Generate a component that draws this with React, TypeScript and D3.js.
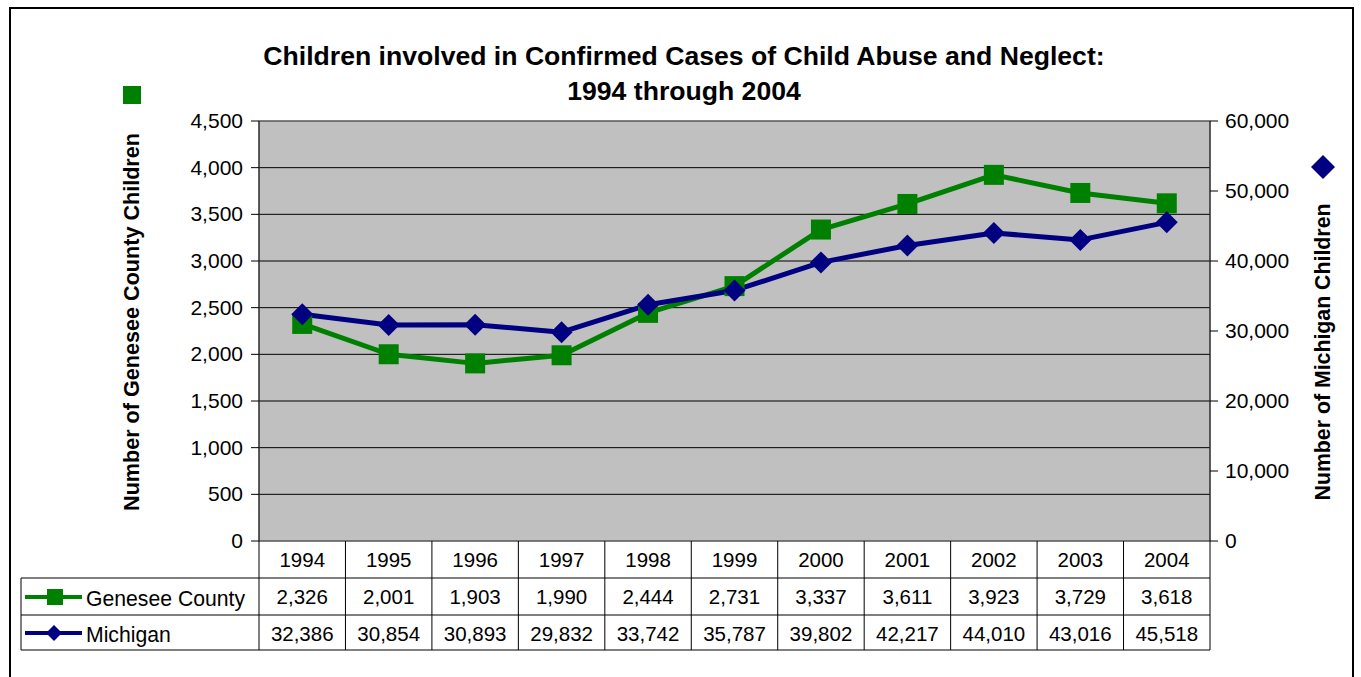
import React from "react";
import * as d3 from "d3";

const years = ["1994", "1995", "1996", "1997", "1998", "1999", "2000", "2001", "2002", "2003", "2004"];
const genesee = [2326, 2001, 1903, 1990, 2444, 2731, 3337, 3611, 3923, 3729, 3618];
const michigan = [32386, 30854, 30893, 29832, 33742, 35787, 39802, 42217, 44010, 43016, 45518];
const leftTicks = [0, 500, 1000, 1500, 2000, 2500, 3000, 3500, 4000, 4500];
const rightTicks = [0, 10000, 20000, 30000, 40000, 50000, 60000];
const titleLines = ["Children involved in Confirmed Cases of Child Abuse and Neglect:", "1994 through 2004"];

const W = 1361, H = 677;
const PL = 259, PR = 1210, PT = 121, PB = 541;
const GREEN = "#008000", NAVY = "#000080";
const FONT = "'Liberation Sans', Arial, sans-serif";

export default function App() {
  const x = d3.scaleBand<string>().domain(years).range([PL, PR]);
  const yL = d3.scaleLinear().domain([0, 4500]).range([PB, PT]);
  const yR = d3.scaleLinear().domain([0, 60000]).range([PB, PT]);
  const fmt = d3.format(",");
  const cx = (d: string) => (x(d) as number) + x.bandwidth() / 2;
  const lineG = d3.line<number>().x((_, i) => cx(years[i])).y((v) => yL(v));
  const lineM = d3.line<number>().x((_, i) => cx(years[i])).y((v) => yR(v));
  const rowY = [PB, 578, 615, 650];
  const tableLeft = 21;
  const diamond = (px: number, py: number, r: number) =>
    `M${px},${py - r}L${px + r},${py}L${px},${py + r}L${px - r},${py}Z`;

  return (
    <div style={{ position: "absolute", left: 0, top: 0 }}>
      <svg width={W} height={H} style={{ display: "block", fontFamily: FONT }}>
        <rect x={0} y={0} width={W} height={H} fill="#fff" />
        <rect x={10} y={8} width={1343} height={700} fill="none" stroke="#000" strokeWidth={2} />
        {/* title */}
        {titleLines.map((t, i) => (
          <text key={i} x={684} y={65 + i * 35} textAnchor="middle" fontSize={26.6} fontWeight="bold">{t}</text>
        ))}
        {/* plot area */}
        <rect x={PL} y={PT} width={PR - PL} height={PB - PT} fill="#C0C0C0" />
        {leftTicks.map((t) => (
          <line key={"g" + t} x1={PL} x2={PR} y1={yL(t)} y2={yL(t)} stroke="#000" strokeWidth={1} />
        ))}
        <rect x={PL} y={PT} width={PR - PL} height={PB - PT} fill="none" stroke="#808080" strokeWidth={1} />
        {/* left axis */}
        <line x1={PL} x2={PL} y1={PT} y2={PB} stroke="#000" />
        {leftTicks.map((t) => (
          <g key={"l" + t}>
            <line x1={PL - 8} x2={PL} y1={yL(t)} y2={yL(t)} stroke="#000" />
            <text x={PL - 16} y={yL(t) + 7} textAnchor="end" fontSize={21}>{fmt(t)}</text>
          </g>
        ))}
        {/* right axis */}
        <line x1={PR} x2={PR} y1={PT} y2={PB} stroke="#000" />
        {rightTicks.map((t) => (
          <g key={"r" + t}>
            <line x1={PR} x2={PR + 8} y1={yR(t)} y2={yR(t)} stroke="#000" />
            <text x={PR + 15} y={yR(t) + 7} textAnchor="start" fontSize={21}>{fmt(t)}</text>
          </g>
        ))}
        {/* axis titles */}
        <text transform={`translate(139,322) rotate(-90)`} textAnchor="middle" fontSize={21.6} fontWeight="bold">Number of Genesee County Children</text>
        <text transform={`translate(1330,352) rotate(-90)`} textAnchor="middle" fontSize={21.3} fontWeight="bold">Number of Michigan Children</text>
        <rect x={123} y={86} width={18} height={18} fill={GREEN} />
        <path d={diamond(1323, 167, 12)} fill={NAVY} />
        {/* lines */}
        <path d={lineG(genesee) || ""} fill="none" stroke={GREEN} strokeWidth={5} strokeLinejoin="round" />
        <path d={lineM(michigan) || ""} fill="none" stroke={NAVY} strokeWidth={5} strokeLinejoin="round" />
        {genesee.map((v, i) => (
          <rect key={"sq" + i} x={cx(years[i]) - 10} y={yL(v) - 10} width={20} height={20} fill={GREEN} />
        ))}
        {michigan.map((v, i) => (
          <path key={"dm" + i} d={diamond(cx(years[i]), yR(v), 11)} fill={NAVY} />
        ))}
        {/* data table */}
        {rowY.slice(1).map((yy, i) => (
          <line key={"h" + i} x1={tableLeft} x2={PR} y1={yy} y2={yy} stroke="#000" />
        ))}
        <line x1={tableLeft} x2={tableLeft} y1={rowY[1]} y2={rowY[3]} stroke="#000" />
        {years.map((yr, i) => (
          <line key={"v" + i} x1={x(yr)} x2={x(yr)} y1={PB} y2={rowY[3]} stroke="#000" />
        ))}
        <line x1={PR} x2={PR} y1={PB} y2={rowY[3]} stroke="#000" />
        {years.map((yr) => (
          <text key={"yt" + yr} x={cx(yr)} y={567} textAnchor="middle" fontSize={20.5}>{yr}</text>
        ))}
        {genesee.map((v, i) => (
          <text key={"gt" + i} x={cx(years[i])} y={604} textAnchor="middle" fontSize={20.5}>{fmt(v)}</text>
        ))}
        {michigan.map((v, i) => (
          <text key={"mt" + i} x={cx(years[i])} y={641} textAnchor="middle" fontSize={20.5}>{fmt(v)}</text>
        ))}
        {/* legend keys in table */}
        <line x1={25} x2={82} y1={597} y2={597} stroke={GREEN} strokeWidth={4} />
        <rect x={47} y={589} width={16} height={16} fill={GREEN} />
        <text x={86} y={606} fontSize={21.2}>Genesee County</text>
        <line x1={25} x2={82} y1={633} y2={633} stroke={NAVY} strokeWidth={4} />
        <path d={diamond(54, 633, 8)} fill={NAVY} />
        <text x={86} y={642} fontSize={21.2}>Michigan</text>
      </svg>
    </div>
  );
}
